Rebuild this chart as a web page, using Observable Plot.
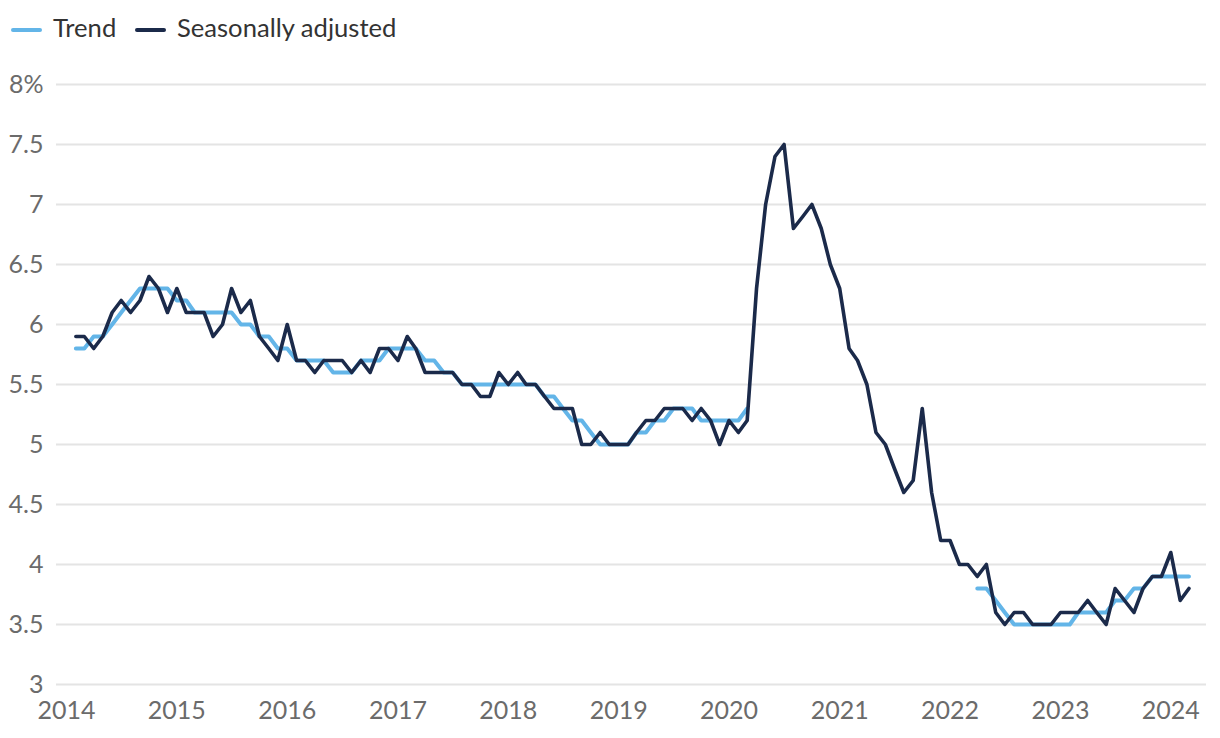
<!DOCTYPE html>
<html>
<head>
<meta charset="utf-8">
<script src="https://cdn.jsdelivr.net/npm/d3@7"></script>
<script src="https://cdn.jsdelivr.net/npm/@observablehq/plot@0.6"></script>
<style>
  html, body { margin: 0; padding: 0; background: #fff; }
  body { width: 1220px; height: 738px; overflow: hidden; font-family: Lato, "Open Sans", sans-serif; }
  #legend { position: relative; height: 56px; width: 1220px; }
  #legend .sw { position: absolute; top: 28px; width: 31px; height: 4px; border-radius: 2px; }
  #legend .lb { position: absolute; top: 15px; font-size: 25.6px; line-height: 25px; color: #333; white-space: nowrap; }
  #chart svg { display: block; }
</style>
</head>
<body>
<div id="legend"></div>
<div id="chart"></div>
<script>
// Series names and colours
const seriesNames = ["Trend", "Seasonally adjusted"];
const seriesColors = ["#63b5e8", "#1b2a4a"];

// Monthly observations: February 2014 to March 2024 (unemployment rate, %)
const seasonallyAdjusted = [
  5.9, 5.9, 5.8, 5.9, 6.1, 6.2, 6.1, 6.2, 6.4, 6.3, 6.1,           // Feb–Dec 2014
  6.3, 6.1, 6.1, 6.1, 5.9, 6.0, 6.3, 6.1, 6.2, 5.9, 5.8, 5.7,      // 2015
  6.0, 5.7, 5.7, 5.6, 5.7, 5.7, 5.7, 5.6, 5.7, 5.6, 5.8, 5.8,      // 2016
  5.7, 5.9, 5.8, 5.6, 5.6, 5.6, 5.6, 5.5, 5.5, 5.4, 5.4, 5.6,      // 2017
  5.5, 5.6, 5.5, 5.5, 5.4, 5.3, 5.3, 5.3, 5.0, 5.0, 5.1, 5.0,      // 2018
  5.0, 5.0, 5.1, 5.2, 5.2, 5.3, 5.3, 5.3, 5.2, 5.3, 5.2, 5.0,      // 2019
  5.2, 5.1, 5.2, 6.3, 7.0, 7.4, 7.5, 6.8, 6.9, 7.0, 6.8, 6.5,      // 2020
  6.3, 5.8, 5.7, 5.5, 5.1, 5.0, 4.8, 4.6, 4.7, 5.3, 4.6, 4.2,      // 2021
  4.2, 4.0, 4.0, 3.9, 4.0, 3.6, 3.5, 3.6, 3.6, 3.5, 3.5, 3.5,      // 2022
  3.6, 3.6, 3.6, 3.7, 3.6, 3.5, 3.8, 3.7, 3.6, 3.8, 3.9, 3.9,      // 2023
  4.1, 3.7, 3.8                                                    // Jan–Mar 2024
];
const trend = [
  5.8, 5.8, 5.9, 5.9, 6.0, 6.1, 6.2, 6.3, 6.3, 6.3, 6.3,           // Feb–Dec 2014
  6.2, 6.2, 6.1, 6.1, 6.1, 6.1, 6.1, 6.0, 6.0, 5.9, 5.9, 5.8,      // 2015
  5.8, 5.7, 5.7, 5.7, 5.7, 5.6, 5.6, 5.6, 5.7, 5.7, 5.7, 5.8,      // 2016
  5.8, 5.8, 5.8, 5.7, 5.7, 5.6, 5.6, 5.5, 5.5, 5.5, 5.5, 5.5,      // 2017
  5.5, 5.5, 5.5, 5.5, 5.4, 5.4, 5.3, 5.2, 5.2, 5.1, 5.0, 5.0,      // 2018
  5.0, 5.0, 5.1, 5.1, 5.2, 5.2, 5.3, 5.3, 5.3, 5.2, 5.2, 5.2,      // 2019
  5.2, 5.2, 5.3, null, null, null, null, null, null, null, null, null, // 2020
  null, null, null, null, null, null, null, null, null, null, null, null, // 2021
  null, null, null, 3.8, 3.8, 3.7, 3.6, 3.5, 3.5, 3.5, 3.5, 3.5,  // 2022
  3.5, 3.5, 3.6, 3.6, 3.6, 3.6, 3.7, 3.7, 3.8, 3.8, 3.9, 3.9,      // 2023
  3.9, 3.9, 3.9                                                    // Jan–Mar 2024
];
const firstMonth = "2014-02-01";
const yTicks = [3, 3.5, 4, 4.5, 5, 5.5, 6, 6.5, 7, 7.5, 8];
const xTickYears = [2014, 2015, 2016, 2017, 2018, 2019, 2020, 2021, 2022, 2023, 2024];

// Build table
const start = new Date(firstMonth + "T00:00:00Z");
const months = seasonallyAdjusted.map((_, i) => d3.utcMonth.offset(start, i));
const rows = [];
months.forEach((date, i) => {
  rows.push({date, value: trend[i], series: seriesNames[0]});
});
months.forEach((date, i) => {
  rows.push({date, value: seasonallyAdjusted[i], series: seriesNames[1]});
});
const trendRows = rows.filter(d => d.series === seriesNames[0]);
const saRows = rows.filter(d => d.series === seriesNames[1]);

// Legend (HTML above chart)
const legend = document.getElementById("legend");
const legendLayout = [
  {sw: 11, lb: 53},
  {sw: 135, lb: 177}
];
seriesNames.forEach((name, i) => {
  const sw = document.createElement("span");
  sw.className = "sw";
  sw.style.left = legendLayout[i].sw + "px";
  sw.style.background = seriesColors[i];
  legend.appendChild(sw);
  const lb = document.createElement("span");
  lb.className = "lb";
  lb.style.left = legendLayout[i].lb + "px";
  lb.textContent = name;
  legend.appendChild(lb);
});

const xTicks = xTickYears.map(y => new Date(Date.UTC(y, 0, 1)));
const chart = Plot.plot({
  width: 1220,
  height: 682,
  marginTop: 28,
  marginBottom: 54,
  marginLeft: 56,
  marginRight: 14,
  style: {fontFamily: "Lato, 'Open Sans', sans-serif", fontSize: "25px", color: "#6b6b6b", background: "#fff"},
  x: {
    type: "utc",
    domain: [new Date(Date.UTC(2013, 10, 29)), new Date(Date.UTC(2024, 3, 28))],
    ticks: xTicks,
    tickFormat: d3.utcFormat("%Y"),
    tickSize: 0,
    tickPadding: 17,
    label: null
  },
  y: {
    domain: [3, 8],
    ticks: yTicks,
    tickFormat: d => d === 8 ? "8%" : String(d),
    tickSize: 0,
    tickPadding: 13,
    label: null
  },
  marks: [
    Plot.gridY(yTicks, {stroke: "#e4e4e4", strokeOpacity: 1, strokeWidth: 2}),
    Plot.axisY({ticks: yTicks, tickSize: 0, tickPadding: 13, tickFormat: d => d === 8 ? "8%" : String(d), label: null, fill: "#6b6b6b"}),
    Plot.axisX({ticks: xTicks, tickFormat: d3.utcFormat("%Y"), tickSize: 0, tickPadding: 17, label: null, fill: "#6b6b6b"}),
    Plot.line(trendRows, {x: "date", y: "value", stroke: seriesColors[0], strokeWidth: 4, curve: "linear"}),
    Plot.line(saRows, {x: "date", y: "value", stroke: seriesColors[1], strokeWidth: 3.6, curve: "linear"})
  ]
});
document.getElementById("chart").appendChild(chart);
</script>
</body>
</html>
